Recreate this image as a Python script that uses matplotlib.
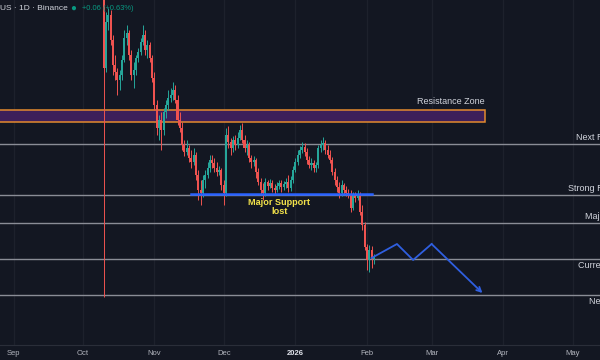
import numpy as np
import pandas as pd
import matplotlib
matplotlib.use('Agg')
import matplotlib.pyplot as plt
import matplotlib.dates as mdates
from matplotlib.patches import Rectangle

# daily candles, Oct 9 2025 .. Feb 4 2026
dates = pd.date_range('2025-10-09', '2026-02-04', freq='D')
first_open = 38.3
closes = [37.3, 28.5, 33.1, 33.8, 31.3, 28.8, 28.1, 27.3, 27.8, 29.3,
          31.5, 32.0, 29.8, 27.8, 28.3, 29.5, 30.1, 31.1, 31.8, 30.3,
          30.8, 29.5, 27.5, 24.8, 22.5, 23.3, 22.3, 24.1, 24.8, 25.5,
          25.8, 26.3, 25.3, 23.3, 22.5, 20.8, 20.1, 20.5, 19.5, 19.1,
          19.8, 17.8, 16.3, 16.0, 17.3, 17.8, 18.5, 19.3, 19.0, 18.5,
          18.1, 18.3, 16.8, 16.0, 21.8, 21.1, 20.5, 21.3, 20.8, 21.5,
          22.3, 21.3, 20.5, 20.8, 19.5, 19.1, 19.3, 18.1, 17.1, 16.3,
          16.0, 17.1, 16.7, 17.0, 16.5, 16.3, 16.7, 17.0, 16.6, 16.9,
          17.1, 16.5, 17.3, 18.3, 19.1, 19.8, 20.3, 20.6, 20.1, 19.3,
          18.8, 19.0, 18.5, 18.8, 20.5, 20.8, 21.0, 20.3, 19.8, 19.3,
          18.1, 17.3, 16.6, 16.0, 16.8, 16.3, 16.0, 15.8, 14.5, 15.7,
          15.5, 15.8, 14.1, 12.8, 10.6, 9.3, 10.3, 9.44, 9.50]
highs = [39.3, 41.3, 34.1, 34.5, 34.3, 31.8, 29.8, 28.5, 28.3, 29.8,
         32.3, 32.8, 32.3, 30.3, 29.1, 29.8, 30.5, 31.5, 32.8, 32.3,
         31.3, 31.1, 29.8, 28.1, 25.3, 23.8, 24.1, 24.5, 25.3, 26.3,
         26.5, 27.1, 26.8, 25.8, 24.1, 23.1, 21.3, 21.3, 20.8, 20.3,
         20.5, 20.1, 18.3, 17.3, 17.8, 18.3, 19.1, 19.8, 19.8, 19.5,
         19.1, 18.7, 18.5, 17.3, 22.5, 22.7, 21.5, 21.7, 21.8, 22.1,
         22.8, 23.0, 21.8, 21.3, 21.1, 19.8, 19.7, 19.5, 18.5, 17.5,
         17.0, 17.5, 17.3, 17.4, 17.3, 16.9, 17.1, 17.3, 17.3, 17.2,
         17.5, 17.8, 17.7, 18.7, 19.5, 20.3, 20.7, 21.1, 21.0, 20.5,
         19.7, 19.5, 19.3, 19.1, 20.8, 21.3, 21.6, 21.3, 20.8, 20.3,
         19.6, 18.5, 17.7, 17.1, 17.3, 17.0, 16.7, 16.4, 16.3, 16.1,
         16.1, 16.3, 16.1, 14.8, 13.1, 10.9, 10.8, 10.7, 9.9]
lows = [36.3, 5.6, 28.1, 32.3, 30.8, 27.8, 27.3, 25.8, 26.3, 27.3,
        29.1, 30.8, 29.3, 27.3, 26.5, 27.8, 29.1, 29.8, 30.8, 29.8,
        29.5, 29.1, 27.1, 24.3, 21.8, 21.3, 20.3, 21.8, 23.5, 24.3,
        25.1, 25.3, 25.0, 22.8, 22.1, 20.3, 19.7, 19.8, 19.1, 18.5,
        18.8, 17.3, 15.3, 14.8, 15.6, 16.5, 17.5, 18.1, 18.5, 18.1,
        17.7, 17.8, 16.3, 14.8, 15.7, 20.5, 19.8, 20.1, 20.3, 20.5,
        21.3, 21.0, 20.1, 19.8, 19.1, 18.5, 18.7, 17.5, 16.8, 15.9,
        15.3, 15.7, 16.3, 16.5, 16.1, 15.9, 16.1, 16.4, 16.1, 16.3,
        16.5, 16.1, 16.2, 17.0, 18.1, 18.8, 19.5, 20.0, 19.7, 18.9,
        18.5, 18.3, 18.1, 18.1, 18.5, 20.1, 20.3, 19.9, 19.5, 19.0,
        17.8, 16.8, 16.1, 15.5, 15.7, 15.9, 15.7, 15.5, 14.1, 14.3,
        15.1, 15.3, 13.8, 12.3, 10.3, 8.3, 8.1, 8.5, 8.9]

zone_low, zone_high = 23.1, 24.3
zone_end = '2026-03-24'
levels = [20.9, 15.8, 13.0, 9.4, 5.8]
level_names = ['Next Resistance', 'Strong Resistance', 'Major Support',
               'Current Support', 'Next Support']
support_price = 15.9
support_start, support_end = '2025-11-17', '2026-02-03'
proj_dates = ['2026-02-03', '2026-02-14', '2026-02-21', '2026-03-01', '2026-03-23']
proj_prices = [9.5, 10.9, 9.3, 10.9, 6.0]
month_ticks = ['2025-09-01', '2025-10-01', '2025-11-01', '2025-12-01', '2026-01-01',
               '2026-02-01', '2026-03-01', '2026-04-01', '2026-05-01']
month_labels = ['Sep', 'Oct', 'Nov', 'Dec', '2026', 'Feb', 'Mar', 'Apr', 'May']

bg = '#131722'
teal = '#26a69a'
red = '#ef5350'
text_col = '#d1d4dc'

plt.rcParams['font.family'] = ['Liberation Sans', 'DejaVu Sans']

fig = plt.figure(figsize=(6, 3.6), dpi=100, facecolor=bg)
ax = fig.add_axes([0, 15 / 360, 1, 345 / 360])
ax.set_facecolor(bg)

# x range: Sep 1 sits ~13.5 px from the left, 2.31 px per day
sep1 = mdates.date2num(pd.Timestamp('2025-09-01'))
ax.set_xlim(sep1 - 13.5 / 2.31, sep1 + (600 - 13.5) / 2.31)
ax.set_ylim(0.8, 35.3)

tick_x = mdates.date2num(pd.to_datetime(month_ticks))
for t in tick_x:
    ax.axvline(t, color='#1d212c', lw=0.9, zorder=0)

# candles
x = mdates.date2num(dates)
c = np.array(closes)
o = np.r_[first_open, c[:-1]]
h = np.maximum(np.array(highs), np.maximum(o, c))
l = np.minimum(np.array(lows), np.minimum(o, c))
cols = np.where(c >= o, teal, red)
ax.vlines(x, l, h, colors=cols, lw=0.7, zorder=3)
ax.bar(x, np.maximum(np.abs(c - o), 0.12), bottom=np.minimum(o, c), width=0.88,
       color=cols, lw=0, zorder=4)

# resistance zone
z0 = mdates.date2num(pd.Timestamp('2025-08-01'))
z1 = mdates.date2num(pd.Timestamp(zone_end))
ax.add_patch(Rectangle((z0, zone_low), z1 - z0, zone_high - zone_low,
                       facecolor='#3d1f5a', edgecolor='#e38a2e', lw=1.1, zorder=2))
ax.annotate('Resistance Zone', xy=(z1, zone_high), xytext=(0, 6), textcoords='offset points',
            ha='right', va='center', fontsize=6.5, color=text_col)

# horizontal levels
for i, (lvl, name) in enumerate(zip(levels, level_names)):
    ax.axhline(lvl, color='#8a8d96', lw=1.0, zorder=2)
    off = 5 if i < 3 else -5
    ax.annotate(name, xy=(1.07, lvl), xycoords=('axes fraction', 'data'),
                xytext=(0, off), textcoords='offset points', ha='right', va='center',
                fontsize=6.5, color=text_col, annotation_clip=False)

# lost support line
s0 = mdates.date2num(pd.Timestamp(support_start))
s1 = mdates.date2num(pd.Timestamp(support_end))
ax.plot([s0, s1], [support_price, support_price], color='#2962ff', lw=1.8, zorder=5)
ax.annotate('Major Support\nlost', xy=((s0 + s1) / 2 - 1, support_price), xytext=(0, -3),
            textcoords='offset points', ha='center', va='top', fontsize=6.6,
            fontweight='bold', color='#f2e24a', linespacing=1.0, zorder=6)

# projected path
px = mdates.date2num(pd.to_datetime(proj_dates))
ax.plot(px[:-1], proj_prices[:-1], color='#2f5fe0', lw=1.3, zorder=5)
ax.annotate('', xy=(px[-1], proj_prices[-1]), xytext=(px[-2], proj_prices[-2]),
            arrowprops=dict(arrowstyle='->', color='#2f5fe0', lw=1.3,
                            shrinkA=0, shrinkB=0, mutation_scale=8), zorder=5)

# axis styling
for side in ['top', 'right', 'left']:
    ax.spines[side].set_visible(False)
ax.spines['bottom'].set_color('#2a2e39')
ax.set_yticks([])
ax.set_xticks(tick_x)
ax.set_xticklabels(month_labels)
ax.tick_params(axis='x', length=0, pad=3.5, labelsize=5.5, colors='#b2b5be')
for lab in ax.get_xticklabels():
    if lab.get_text() == '2026':
        lab.set_fontweight('bold')
        lab.set_color('#e0e3eb')

# header
fig.text(0.0, 1 - 8 / 360, 'US · 1D · Binance', ha='left', va='center', fontsize=6.0, color=text_col)
fig.text(73 / 600, 1 - 8 / 360, '●', ha='center', va='center', fontsize=7, color='#089981')
fig.text(82 / 600, 1 - 8 / 360, '+0.06 (+0.63%)', ha='left', va='center', fontsize=5.4, color='#089981')

fig.savefig('out.png', dpi=100, facecolor=bg)
